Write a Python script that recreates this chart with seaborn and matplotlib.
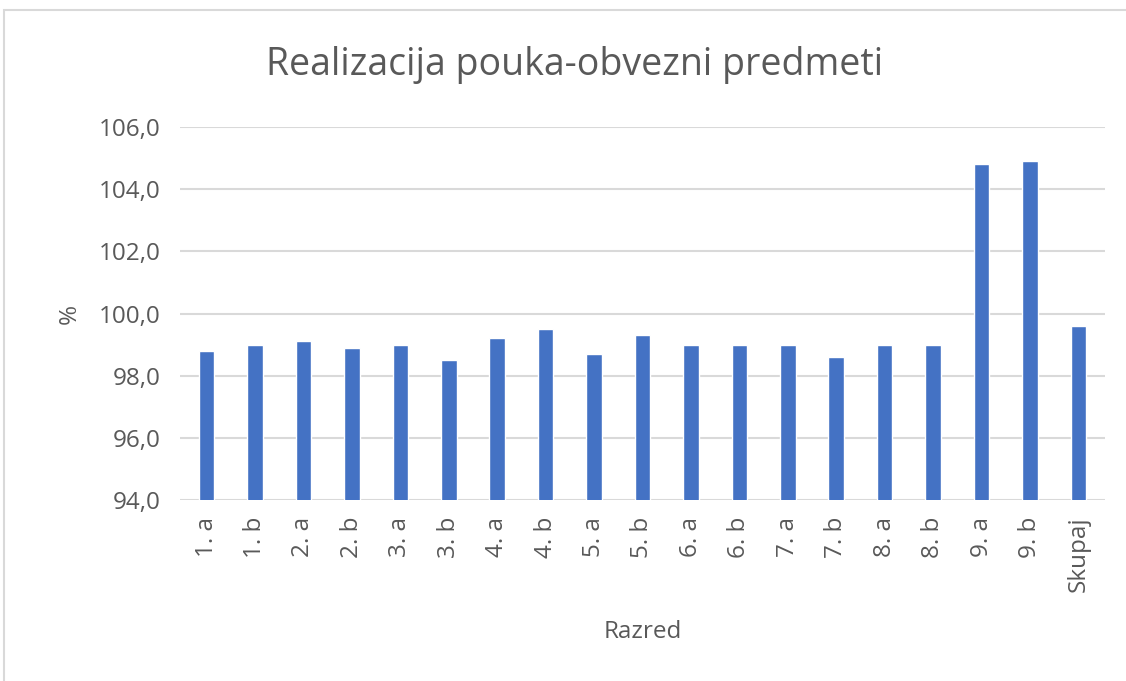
import matplotlib
matplotlib.use("Agg")
import matplotlib.pyplot as plt
import seaborn as sns
import pandas as pd
from matplotlib.patches import Rectangle

# ----------------- Data -----------------
razredi = ["1. a", "1. b", "2. a", "2. b", "3. a", "3. b", "4. a", "4. b", "5. a",
           "5. b", "6. a", "6. b", "7. a", "7. b", "8. a", "8. b", "9. a", "9. b", "Skupaj"]
realizacija = [98.8, 99.0, 99.1, 98.9, 99.0, 98.5, 99.2, 99.5, 98.7,
               99.3, 99.0, 99.0, 99.0, 98.6, 99.0, 99.0, 104.8, 104.9, 99.6]
y_ticks = [94, 96, 98, 100, 102, 104, 106]

df = pd.DataFrame({"Razred": razredi, "Realizacija": realizacija})

sns.set_theme(style="white")
plt.rcParams['font.family'] = ['Open Sans', 'DejaVu Sans']

fig = plt.figure(figsize=(11.26, 6.81), dpi=100)
ax = fig.add_axes([180 / 1126, 1 - 500 / 681, 925 / 1126, 373 / 681])

sns.barplot(data=df, x="Razred", y="Realizacija", color="#4472C4",
            width=0.32, ax=ax, saturation=1)

ax.set_ylim(94, 106)
ax.set_yticks(y_ticks)
ax.set_yticklabels([f"{v:.1f}".replace(".", ",") for v in y_ticks], fontsize=17.5, color="#595959")
ax.yaxis.grid(True, color="#D9D9D9", linewidth=1.5)
ax.set_axisbelow(True)
ax.tick_params(axis="x", rotation=90, labelsize=17.5, labelcolor="#595959", length=0, pad=12)
ax.tick_params(axis="y", length=0, pad=14)
ax.set_xlim(-0.55, len(razredi) - 0.45)
for s in ax.spines.values():
    s.set_visible(False)

ax.set_xlabel("Razred", fontsize=17.5, color="#595959", labelpad=20)
ax.set_ylabel("%", fontsize=17.5, color="#595959", labelpad=12)
fig.text(575 / 1126, 1 - 65 / 681, "Realizacija pouka-obvezni predmeti",
         ha="center", va="center", fontsize=27, color="#595959")

# frame of the chart
fig.patches.append(Rectangle((4 / 1126, -0.01), 1.2, 1 - 10 / 681 + 0.01,
                             transform=fig.transFigure, fill=False,
                             edgecolor="#D9D9D9", linewidth=1.5))

fig.savefig("out.png", dpi=100)
